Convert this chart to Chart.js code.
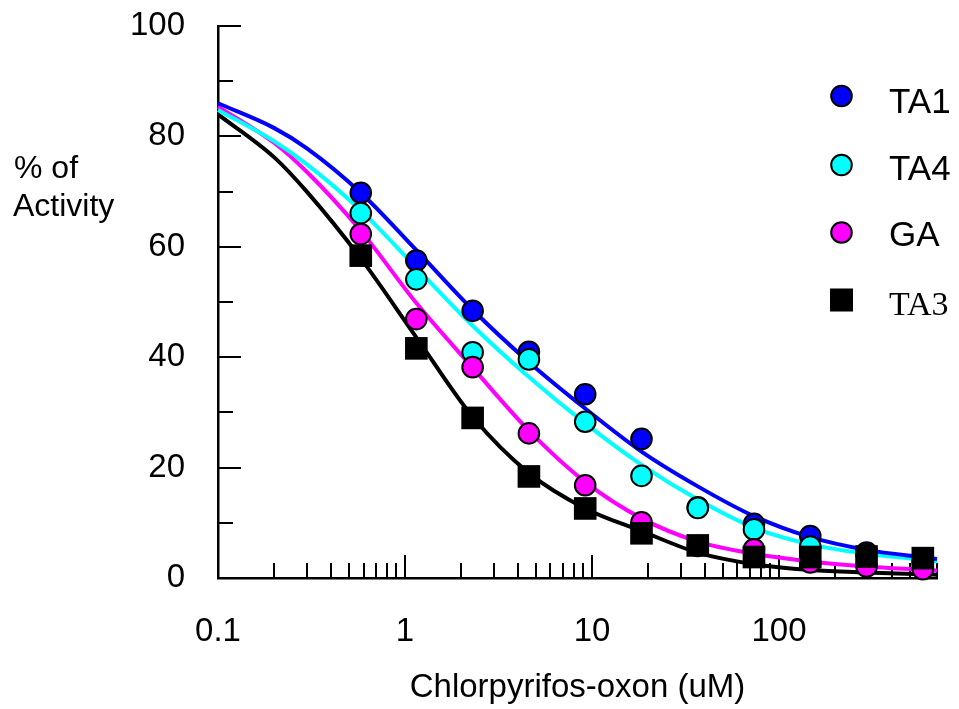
<!DOCTYPE html>
<html>
<head>
<meta charset="utf-8">
<script src="https://cdn.jsdelivr.net/npm/chart.js"></script>
<style>
html, body { margin: 0; padding: 0; background: #ffffff; }
#wrap { width: 959px; height: 709px; position: relative; }
</style>
</head>
<body>
<div id="wrap"><canvas id="chart" width="959" height="709"></canvas></div>
<script>
// ---- data ----
const concentrations = [0.58, 1.15, 2.3, 4.6, 9.2, 18.4, 36.8, 73.5, 147, 294, 588];
const ta1 = [69.8, 57.5, 48.4, 41.0, 33.3, 25.2, 12.8, 9.8, 7.6, 4.6, 3.2];
const ta4 = [66.1, 54.1, 40.9, 39.6, 28.3, 18.5, 12.7, 8.8, 5.7, 4.2, 2.8];
const ga  = [62.3, 46.9, 38.2, 26.2, 16.8, 10.1, 5.8, 5.2, 2.8, 2.1, 1.6];
const ta3 = [58.4, 41.6, 29.0, 18.4, 12.6, 8.1, 5.9, 3.8, 3.8, 3.9, 3.6];

// fitted curves
const curveX = [0.1, 0.2, 0.3, 0.58, 1.15, 2.3, 4.6, 9.2, 18.4, 36.8, 73.5, 147, 294, 588, 700];
const ta1Fit = [86.0, 81.5, 77.8, 69.8, 59.4, 48.6, 39.1, 30.7, 22.9, 16.6, 11.2, 7.4, 5.1, 3.75, 3.45];
const ta4Fit = [84.8, 79.1, 74.9, 66.6, 56.2, 45.7, 36.4, 28.0, 20.5, 14.2, 9.1, 6.1, 4.4, 3.3, 3.0];
const gaFit  = [85.4, 78.8, 73.5, 62.9, 49.8, 38.1, 26.7, 17.4, 10.8, 6.6, 4.4, 3.0, 2.1, 1.5, 1.35];
const ta3Fit = [84.0, 76.2, 69.9, 57.9, 43.6, 29.2, 19.0, 12.6, 8.5, 4.6, 2.5, 1.45, 1.0, 0.7, 0.6];

const seriesNames = ['TA1', 'TA4', 'GA', 'TA3'];
const xTickValues = [0.1, 1, 10, 100];
const xTickLabels = ['0.1', '1', '10', '100'];
const xMinorTicks = [0.2, 0.3, 0.4, 0.5, 0.6, 0.7, 0.8, 0.9, 2, 3, 4, 5, 6, 7, 8, 9,
                     20, 30, 40, 50, 60, 70, 80, 90, 200, 300, 400, 500, 600, 700];
const yTickValues = [0, 20, 40, 60, 80, 100];
const yMinorTicks = [10, 30, 50, 70, 90];
const xTitle = 'Chlorpyrifos-oxon (uM)';
const yTitleLines = ['% of', 'Activity'];

// ---- build ----
const SANS = "'Liberation Sans', Arial, sans-serif";
const SERIF = "'Liberation Serif', 'Times New Roman', serif";
const pts = (xs, ys) => xs.map((x, i) => ({ x: x, y: ys[i] }));

const colors = { TA1: '#0000ff', TA4: '#00ffff', GA: '#ff00ff', TA3: '#000000' };

function curveDataset(label, ys) {
  return {
    label: label + ' fit', data: pts(curveX, ys), showLine: true,
    borderColor: colors[label], borderWidth: 4, pointRadius: 0, pointHoverRadius: 0,
    cubicInterpolationMode: 'monotone', fill: false, order: 100, clip: false
  };
}
function pointDataset(label, ys, order) {
  const isSquare = label === 'TA3';
  return {
    label: label, data: pts(concentrations, ys), showLine: false,
    backgroundColor: colors[label], borderColor: '#000000',
    pointBackgroundColor: colors[label], pointBorderColor: '#000000',
    pointStyle: isSquare ? 'rect' : 'circle',
    pointRadius: isSquare ? 16 : 10.3, pointHoverRadius: isSquare ? 16 : 10.3,
    pointBorderWidth: isSquare ? 0 : 2, order: order, clip: false
  };
}

const tickMarks = {
  id: 'tickMarks',
  beforeDatasetsDraw(chart) {
    const ctx = chart.ctx, xs = chart.scales.x, ys = chart.scales.y;
    const a = chart.chartArea;
    ctx.save();
    ctx.strokeStyle = '#000';
    ctx.lineWidth = 2;
    ctx.beginPath();
    xTickValues.forEach(v => { const p = Math.round(xs.getPixelForValue(v)); ctx.moveTo(p, a.bottom); ctx.lineTo(p, a.bottom - 23); });
    xMinorTicks.forEach(v => { const p = Math.round(xs.getPixelForValue(v)); ctx.moveTo(p, a.bottom); ctx.lineTo(p, a.bottom - 15); });
    yTickValues.forEach(v => { const p = Math.round(ys.getPixelForValue(v)); ctx.moveTo(a.left, p); ctx.lineTo(a.left + 23, p); });
    yMinorTicks.forEach(v => { const p = Math.round(ys.getPixelForValue(v)); ctx.moveTo(a.left, p); ctx.lineTo(a.left + 15, p); });
    ctx.stroke();
    ctx.restore();
  }
};

const extras = {
  id: 'extras',
  afterDraw(chart) {
    const ctx = chart.ctx;
    ctx.save();
    ctx.fillStyle = '#000';
    ctx.textAlign = 'left';
    ctx.textBaseline = 'alphabetic';
    // y-axis title (horizontal, two lines)
    ctx.font = '32px ' + SANS;
    ctx.fillText(yTitleLines[0], 14, 178);
    ctx.fillText(yTitleLines[1], 13, 216);
    // legend
    const lx = 841.5;
    const rowY = [96, 165, 232.5, 300];
    const baseY = [113.3, 180, 245.8, 315];
    seriesNames.forEach((name, i) => {
      ctx.beginPath();
      if (name === 'TA3') {
        ctx.fillStyle = colors[name];
        ctx.fillRect(lx - 11.5, rowY[i] - 11.5, 23, 23);
      } else {
        ctx.arc(lx, rowY[i], 10.3, 0, Math.PI * 2);
        ctx.fillStyle = colors[name];
        ctx.fill();
        ctx.lineWidth = 2;
        ctx.strokeStyle = '#000';
        ctx.stroke();
      }
      ctx.fillStyle = '#000';
      ctx.font = name === 'TA3' ? ('34px ' + SERIF) : ('35px ' + SANS);
      ctx.fillText(name, 889, baseY[i]);
    });
    ctx.restore();
  }
};

new Chart(document.getElementById('chart'), {
  type: 'line',
  data: {
    datasets: [
      curveDataset('TA1', ta1Fit),
      curveDataset('TA4', ta4Fit),
      curveDataset('GA', gaFit),
      curveDataset('TA3', ta3Fit),
      pointDataset('TA1', ta1, 4),
      pointDataset('TA4', ta4, 3),
      pointDataset('GA', ga, 2),
      pointDataset('TA3', ta3, 1)
    ]
  },
  options: {
    responsive: false,
    animation: false,
    devicePixelRatio: 1,
    layout: { padding: { left: 0, right: 22, top: 26, bottom: 0 } },
    plugins: { legend: { display: false }, tooltip: { enabled: false }, title: { display: false } },
    scales: {
      x: {
        type: 'logarithmic', min: 0.1, max: 700,
        grid: { display: false, drawTicks: false },
        border: { display: true, color: '#000', width: 2.5 },
        afterBuildTicks: (scale) => { scale.ticks = xTickValues.map(v => ({ value: v })); },
        afterFit: (scale) => { scale.height = 131; scale.paddingLeft = 0; scale.paddingRight = 0; },
        ticks: {
          autoSkip: false, maxRotation: 0, minRotation: 0, padding: 34,
          color: '#000', font: { family: SANS, size: 33 },
          callback: (value) => { const i = xTickValues.indexOf(value); return i >= 0 ? xTickLabels[i] : ''; }
        },
        title: { display: true, text: xTitle, color: '#000', font: { family: SANS, size: 33 }, padding: { top: 0, bottom: 1 } }
      },
      y: {
        type: 'linear', min: 0, max: 100,
        grid: { display: false, drawTicks: false },
        border: { display: true, color: '#000', width: 2.5 },
        afterBuildTicks: (scale) => { scale.ticks = yTickValues.map(v => ({ value: v })); },
        afterFit: (scale) => { scale.width = 218; scale.paddingTop = 0; scale.paddingBottom = 0; },
        ticks: { padding: 33, color: '#000', font: { family: SANS, size: 33 } }
      }
    }
  },
  plugins: [tickMarks, extras]
});
</script>
</body>
</html>
